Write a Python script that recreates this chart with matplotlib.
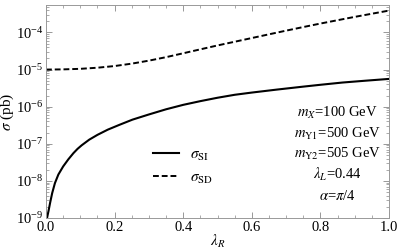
import matplotlib
matplotlib.use('Agg')
import matplotlib.pyplot as plt
from matplotlib.ticker import LogLocator, MultipleLocator, LogFormatterMathtext, NullFormatter

plt.rcParams['font.family'] = ['Liberation Serif', 'DejaVu Serif']
plt.rcParams['mathtext.fontset'] = 'stix'

# valores
lam_si = [0.003, 0.008, 0.012, 0.018, 0.026, 0.036, 0.05, 0.065, 0.08, 0.092, 0.104, 0.126,
          0.15, 0.18, 0.214, 0.252, 0.3, 0.35, 0.4, 0.45, 0.5, 0.55, 0.6, 0.672,
          0.75, 0.8, 0.864, 0.93, 1.0]
sig_si = [1.0e-9, 1.66e-9, 2.57e-9, 4.68e-9, 8.7e-9, 1.48e-8, 2.45e-8, 3.8e-8, 5.6e-8, 7.3e-8,
          9.1e-8, 1.29e-7, 1.74e-7, 2.4e-7, 3.24e-7, 4.47e-7, 6.17e-7, 8.5e-7, 1.12e-6,
          1.41e-6, 1.74e-6, 2.09e-6, 2.4e-6, 2.88e-6, 3.47e-6, 3.89e-6, 4.47e-6, 5.0e-6,
          5.6e-6]

lam_sd = [0.0, 0.05, 0.1, 0.15, 0.2, 0.25, 0.3, 0.35, 0.4, 0.45, 0.5, 0.55, 0.6,
          0.65, 0.7, 0.75, 0.8, 0.85, 0.9, 0.95, 1.0]
sig_sd = [1.0e-5, 1.012e-5, 1.047e-5, 1.122e-5, 1.245e-5, 1.445e-5, 1.74e-5, 2.16e-5,
          2.75e-5, 3.51e-5, 4.47e-5, 5.62e-5, 7.08e-5, 8.91e-5, 1.12e-4, 1.40e-4,
          1.74e-4, 2.14e-4, 2.63e-4, 3.2e-4, 3.89e-4]

params = [r'$m_X$=100 GeV', r'$m_{\mathrm{Y}1}$=500 GeV', r'$m_{\mathrm{Y}2}$=505 GeV',
          r'$\lambda_L$=0.44', r'$\alpha$=$\pi$/4']

fig = plt.figure(figsize=(3.99, 2.52), dpi=100)
ax = fig.add_axes([0.1153, 0.135, 0.8597, 0.844])

ax.plot(lam_si, sig_si, color='black', lw=1.5, label=r'$\sigma_{\mathrm{SI}}$')
ax.plot(lam_sd, sig_sd, color='black', lw=1.4, ls=(0, (3, 1.5)), label=r'$\sigma_{\mathrm{SD}}$')

ax.set_yscale('log')
ax.set_xlim(0, 1)
ax.set_ylim(1e-9, 5.4e-4)

ax.xaxis.set_major_locator(MultipleLocator(0.2))
ax.xaxis.set_minor_locator(MultipleLocator(0.05))
ax.xaxis.set_major_formatter(plt.FuncFormatter(lambda v, p: f'{v:.1f}'))
ax.yaxis.set_major_locator(LogLocator(base=10, numticks=20))
ax.yaxis.set_minor_locator(LogLocator(base=10, subs=range(2, 10), numticks=20))
ax.yaxis.set_major_formatter(LogFormatterMathtext())
ax.yaxis.set_minor_formatter(NullFormatter())

ax.tick_params(which='both', direction='in', top=True, right=True, color='#888888',
               labelsize=10.5, pad=2)
ax.tick_params(which='major', length=4, width=0.6)
ax.tick_params(which='minor', length=2, width=0.5)
for s in ax.spines.values():
    s.set_color('#999999')
    s.set_linewidth(0.7)

ax.set_xlabel(r'$\lambda_R$', fontsize=11)
ax.xaxis.set_label_coords(0.5, -0.068)
ax.set_ylabel(r'$\sigma$ (pb)', fontsize=11)
ax.yaxis.set_label_coords(-0.087, 0.5)

ax.legend(loc='center', bbox_to_anchor=(0.40, 0.24), frameon=False, fontsize=11,
          handlelength=1.7, handletextpad=0.7, labelspacing=0.55)

ys = [0.495, 0.395, 0.30, 0.205, 0.105]
for t, y in zip(params, ys):
    ax.text(0.85, y, t, transform=ax.transAxes, ha='center', va='center', fontsize=10.5)

fig.savefig('out.png', dpi=100)
